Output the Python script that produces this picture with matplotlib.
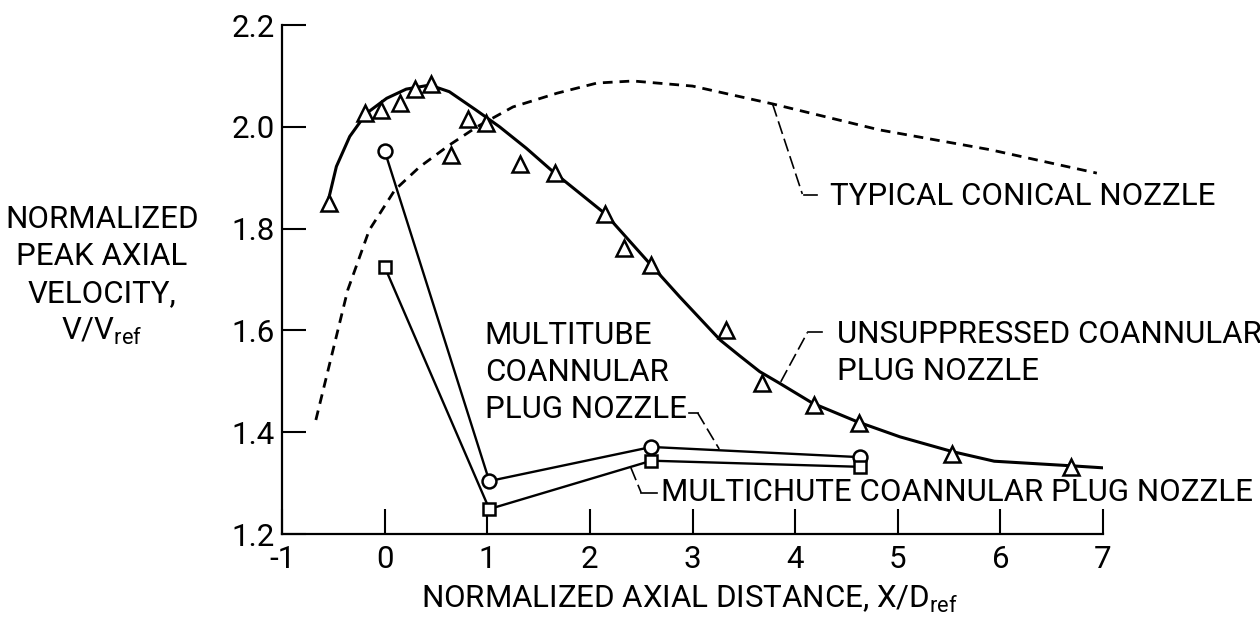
import matplotlib
matplotlib.use("Agg")
import matplotlib.pyplot as plt
from matplotlib import font_manager

# unsuppressed coannular plug nozzle: measured points and faired curve
tri_x = [-0.54, -0.19, -0.04, 0.15, 0.30, 0.455, 0.65, 0.81, 0.99, 1.32, 1.66, 2.15, 2.33, 2.60,
         3.33, 3.68, 4.18, 4.62, 5.53, 6.69]
tri_y = [1.850, 2.027, 2.033, 2.047, 2.074, 2.084, 1.945, 2.015, 2.008, 1.927, 1.910, 1.829, 1.762, 1.728,
         1.600, 1.497, 1.454, 1.418, 1.357, 1.332]
fit_x = [-0.54, -0.47, -0.34, -0.18, 0.02, 0.21, 0.44, 0.63, 0.89, 1.12, 1.38, 1.64, 2.15, 2.58,
         2.875, 3.27, 3.46, 3.655, 3.85, 4.17, 4.60, 5.02, 5.53, 5.94, 6.69, 7.0]
fit_y = [1.863, 1.922, 1.981, 2.026, 2.056, 2.074, 2.082, 2.069, 2.033, 2.000, 1.958, 1.912, 1.829, 1.732,
         1.666, 1.581, 1.550, 1.519, 1.496, 1.457, 1.421, 1.391, 1.362, 1.343, 1.334, 1.330]

# typical conical nozzle (dashed)
con_x = [-0.67, -0.36, -0.15, 0.10, 0.34, 0.63, 0.90, 1.25, 1.68, 2.07, 2.42, 3.0, 3.78, 4.82, 5.90, 6.94]
con_y = [1.424, 1.679, 1.797, 1.876, 1.921, 1.964, 2.000, 2.039, 2.066, 2.086, 2.090, 2.080, 2.045,
         1.994, 1.955, 1.909]

# multitube (circles) and multichute (squares)
tube_x = [0.0, 1.02, 2.60, 4.63]
tube_y = [1.953, 1.304, 1.371, 1.351]
chute_x = [0.0, 1.02, 2.60, 4.63]
chute_y = [1.725, 1.249, 1.344, 1.332]

x_ticks = [-1, 0, 1, 2, 3, 4, 5, 6, 7]
y_ticks = [1.2, 1.4, 1.6, 1.8, 2.0, 2.2]


def pick_font():
    names = {f.name for f in font_manager.fontManager.ttflist}
    for name in ["Roboto", "Liberation Sans Narrow", "Roboto Condensed"]:
        if name in names:
            return name
    return "DejaVu Sans"


font = pick_font()
plt.rcParams["font.family"] = [font, "DejaVu Sans"]
plt.rcParams["mathtext.fontset"] = "custom"
plt.rcParams["mathtext.rm"] = font
plt.rcParams["mathtext.it"] = font
plt.rcParams["mathtext.default"] = "rm"
fs = 22.5
ls = 1.35

fig = plt.figure(figsize=(12.6, 6.24), dpi=100)
ax = fig.add_axes([282 / 1260, 90 / 624, 821 / 1260, 509 / 624])

ax.plot(con_x, con_y, color="black", lw=2.0, dashes=(3.5, 2.5))
ax.plot(fit_x, fit_y, color="black", lw=2.2)
ax.plot(tri_x, tri_y, ls="none", marker="^", ms=11, mfc="white", mec="black", mew=1.8)
ax.plot(tube_x, tube_y, color="black", lw=1.7, marker="o", ms=10, mfc="white", mec="black", mew=1.8)
ax.plot(chute_x, chute_y, color="black", lw=1.7, marker="s", ms=9, mfc="white", mec="black", mew=1.8)

ax.set_xlim(-1, 7)
ax.set_ylim(1.2, 2.2)
ax.set_xticks(x_ticks)
ax.set_xticklabels([str(v) for v in x_ticks])
ax.set_yticks(y_ticks)
ax.set_yticklabels([f"{v:.1f}" for v in y_ticks])
ax.tick_params(axis="both", direction="in", width=1.5, labelsize=fs, color="black")
ax.tick_params(axis="x", length=18, pad=8)
ax.tick_params(axis="y", length=17, pad=5)
for side in ["top", "right"]:
    ax.spines[side].set_visible(False)
for side in ["left", "bottom"]:
    ax.spines[side].set_linewidth(1.6)

# labels and leader lines
lead = dict(color="black", lw=1.2, dashes=(8, 3), clip_on=False)
ax.text(4.34, 1.864, "TYPICAL CONICAL NOZZLE", fontsize=fs, ha="left", va="center")
ax.plot([3.78, 4.07], [2.045, 1.868], **lead)
ax.plot([4.09, 4.21], [1.866, 1.866], color="black", lw=1.2)

ax.text(4.41, 1.556, "UNSUPPRESSED COANNULAR\nPLUG NOZZLE", fontsize=fs, ha="left", va="center",
        linespacing=ls)
ax.plot([3.86, 4.12], [1.499, 1.596], **lead)
ax.plot([4.13, 4.26], [1.596, 1.596], color="black", lw=1.2)

ax.text(0.975, 1.517, "MULTITUBE\nCOANNULAR\nPLUG NOZZLE", fontsize=fs, ha="left", va="center",
        linespacing=ls)
ax.plot([2.97, 3.05], [1.438, 1.438], color="black", lw=1.2)
ax.plot([3.05, 3.26], [1.438, 1.367], **lead)

ax.text(2.69, 1.281, "MULTICHUTE COANNULAR PLUG NOZZLE", fontsize=fs, ha="left", va="center")
ax.plot([2.40, 2.50], [1.330, 1.281], **lead)
ax.plot([2.50, 2.65], [1.281, 1.281], color="black", lw=1.2)

fig.text(102 / 1260, 1 - 276 / 624, "NORMALIZED\nPEAK AXIAL\nVELOCITY,\nV/V$_{\\mathrm{ref}}$",
         fontsize=fs, ha="center", va="center", linespacing=ls)
fig.text(690 / 1260, 1 - 608 / 624, "NORMALIZED AXIAL DISTANCE, X/D$_{\\mathrm{ref}}$",
         fontsize=fs, ha="center", va="baseline")

fig.savefig("out.png", dpi=100)
